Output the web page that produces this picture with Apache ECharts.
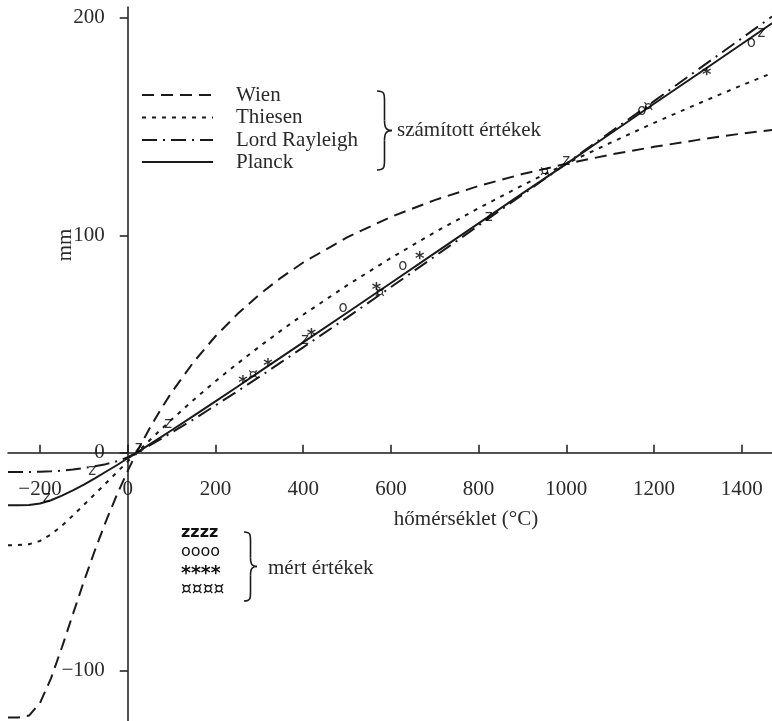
<!DOCTYPE html>
<html><head><meta charset="utf-8">
<script src="https://cdn.jsdelivr.net/npm/echarts@6/dist/echarts.min.js"></script>
<style>html,body{margin:0;padding:0;background:#fff}#c{width:772px;height:721px}</style>
</head><body><div id="c"></div>
<script>
// temperatures (°C) for the computed curves
const temps = [-273,-250,-225,-200,-175,-150,-125,-100,-75,-50,-25,0,20,50,75,100,150,200,250,300,350,400,500,600,700,800,900,1000,1100,1200,1300,1400,1469];
const wien = [-121.7,-121.7,-120.8,-115.0,-103.7,-89.4,-74.2,-59.1,-44.9,-31.6,-19.4,-8.3,0,11.3,19.9,27.8,41.7,53.6,63.8,72.8,80.6,87.5,99.1,108.5,116.2,122.7,128.2,132.9,137.1,140.7,143.9,146.8,148.5];
const thiesen = [-42.5,-42.4,-42.0,-40.5,-37.5,-33.5,-28.8,-23.9,-19.0,-14.0,-9.0,-4.0,0,5.8,10.6,15.3,24.3,32.9,41.0,48.8,56.3,63.5,77.0,89.6,101.4,112.5,123.0,133.0,142.5,151.7,160.5,169.0,174.6];
const rayleigh = [-8.8,-8.8,-8.8,-8.7,-8.5,-8.2,-7.7,-7.0,-6.2,-5.2,-3.9,-2.0,0,3.4,6.3,9.3,15.4,21.8,28.3,34.9,41.7,48.5,62.2,76.2,90.3,104.5,118.7,133.0,147.4,161.7,176.2,190.6,200.6];
const planck = [-24.1,-24.1,-24.0,-23.3,-21.8,-19.7,-17.3,-14.6,-11.7,-8.7,-5.7,-2.5,0,3.9,7.1,10.4,17.0,23.7,30.4,37.2,44.0,50.8,64.4,78.1,91.8,105.5,119.3,132.9,146.7,160.5,174.2,188.0,197.5];

// measured values
const zT = [-185,-81,25,92,404,823,1000,1445];
const zV = [-21,-8.6,2,13,52,108.5,134,193];
const oT = [491,627,1172,1422];
const oV = [66.5,86,157,188.4];
const sT = [263,320,419,567,666,1320];
const sV = [33.6,41.7,55.2,76.5,91,175.3];
const qT = [286,575,951,1187];
const qV = [36,73.4,129.3,159];

const xTicks = [-200,0,200,400,600,800,1000,1200,1400];
const yTicks = [-100,0,100,200];

const curveNames = ['Wien','Thiesen','Lord Rayleigh','Planck'];
const curveData = [wien, thiesen, rayleigh, planck];
const dashes = [[12,7],[4,6],[15,6,2,6],'solid'];

const SERIF = '"Liberation Serif", "DejaVu Serif", serif';
const SANS = '"DejaVu Sans", sans-serif';
const INK = '#1a1a1a';
const TXT = '#2a2a2a';
const fmt = v => v < 0 ? '\u2212' + (-v) : String(v);

const zip = (a, b) => a.map((t, i) => [t, b[i]]);

const lineSeries = curveNames.map((n, i) => ({
  name: n, type: 'line', data: zip(temps, curveData[i]),
  symbol: 'none', smooth: false,
  lineStyle: { color: INK, width: 2, type: dashes[i] },
  silent: true, z: 3
}));

function markerSeries(name, ts, vs, ch, size, off, weight) {
  return {
    name, type: 'scatter', data: zip(ts, vs), symbol: 'circle', symbolSize: 1,
    itemStyle: { color: 'rgba(0,0,0,0)' },
    label: { show: true, position: 'inside', formatter: ch, color: '#000',
             fontFamily: SANS, fontSize: size, fontWeight: weight || 'normal', offset: off || [0,0] },
    silent: true, z: 4
  };
}

function brace(x0, w, top, bot, r) {
  const xm = x0 + w / 2, mid = (top + bot) / 2, xe = x0 + w;
  const st = { stroke: INK, lineWidth: 1.6, fill: null };
  return [
    { type: 'bezierCurve', shape: { x1: x0, y1: top, cpx1: xm, cpy1: top, cpx2: xm, cpy2: top + r*0.3, x2: xm, y2: top + r }, style: st },
    { type: 'line', shape: { x1: xm, y1: top + r, x2: xm, y2: mid - r }, style: st },
    { type: 'bezierCurve', shape: { x1: xm, y1: mid - r, cpx1: xm, cpy1: mid - r*0.2, cpx2: xm + w*0.15, cpy2: mid, x2: xe, y2: mid }, style: st },
    { type: 'bezierCurve', shape: { x1: xe, y1: mid, cpx1: xm + w*0.15, cpy1: mid, cpx2: xm, cpy2: mid + r*0.2, x2: xm, y2: mid + r }, style: st },
    { type: 'line', shape: { x1: xm, y1: mid + r, x2: xm, y2: bot - r }, style: st },
    { type: 'bezierCurve', shape: { x1: xm, y1: bot - r, cpx1: xm, cpy1: bot - r*0.3, cpx2: xm, cpy2: bot, x2: x0, y2: bot }, style: st }
  ];
}

function txt(x, y, text, font, align, extra) {
  return Object.assign({ type: 'text', x, y,
    style: { text, font, fill: TXT, align: align || 'left', textAlign: align || 'left',
             verticalAlign: 'middle', textVerticalAlign: 'middle' } }, extra || {});
}

const legendY = [95, 117.5, 140, 162];
const graphics = [];
curveNames.forEach((n, i) => {
  graphics.push({ type: 'line', shape: { x1: 142, y1: legendY[i], x2: 213, y2: legendY[i] },
    style: { stroke: INK, lineWidth: 2, lineDash: dashes[i] === 'solid' ? null : dashes[i] } });
  graphics.push(txt(236, legendY[i], n, '21px ' + SERIF));
});
graphics.push(...brace(377, 15, 91, 170, 10));
graphics.push(txt(397, 130, 'számított értékek', '21px ' + SERIF));

const markLegend = ['zzzz', 'oooo', '****', '\u00a4\u00a4\u00a4\u00a4'];
const markLegendY = [533, 552, 574, 590];
const markFonts = ['bold 16px ', '16px ', 'bold 19px ', '17px '];
markLegend.forEach((t, i) => {
  graphics.push({ type: 'text', x: 181, y: markLegendY[i],
    style: { text: t, font: markFonts[i] + SANS, fill: '#111', verticalAlign: 'middle', textVerticalAlign: 'middle' } });
});
graphics.push(...brace(244, 13, 532, 601, 9));
graphics.push(txt(268, 568, 'mért értékek', '21px ' + SERIF));

graphics.push(txt(466, 519, 'hőmérséklet (°C)', '21px ' + SERIF, 'center'));
graphics.push(txt(65, 245, 'mm', '21px ' + SERIF, 'center', { rotation: Math.PI / 2 }));

const chart = echarts.init(document.getElementById('c'), null, { renderer: 'canvas' });
chart.setOption({
  animation: false,
  backgroundColor: '#fff',
  grid: { left: 8, right: 0, top: 7, bottom: 0, containLabel: false },
  xAxis: {
    type: 'value', min: -273, max: 1469,
    axisLine: { onZero: true, lineStyle: { color: INK, width: 1.5 } },
    axisTick: { inside: true, length: 8, customValues: xTicks, lineStyle: { color: INK, width: 1.5 } },
    axisLabel: { show: false },
    splitLine: { show: false }
  },
  yAxis: {
    type: 'value', min: -123.3, max: 205,
    axisLine: { onZero: true, lineStyle: { color: INK, width: 1.5 } },
    axisTick: { length: 8, customValues: yTicks, lineStyle: { color: INK, width: 1.5 } },
    axisLabel: { show: false },
    splitLine: { show: false }
  },
  series: [
    ...lineSeries,
    markerSeries('z', zT, zV, 'z', 15),
    markerSeries('o', oT, oV, 'o', 15),
    markerSeries('*', sT, sV, '*', 18, [0, 4], 'bold'),
    markerSeries('\u00a4', qT, qV, '\u00a4', 16)
  ],
  graphic: graphics
});

// tick labels placed through the chart's own coordinate system
const labelG = [];
xTicks.forEach(v => {
  const p = chart.convertToPixel({ gridIndex: 0 }, [v, 0]);
  labelG.push(txt(p[0], p[1] + 37, fmt(v), '21px ' + SERIF, 'center'));
});
yTicks.forEach(v => {
  const p = chart.convertToPixel({ gridIndex: 0 }, [0, v]);
  labelG.push(txt(p[0] - 23, p[1], fmt(v), '21px ' + SERIF, 'right'));
});
chart.setOption({ graphic: graphics.concat(labelG) });
</script></body></html>
